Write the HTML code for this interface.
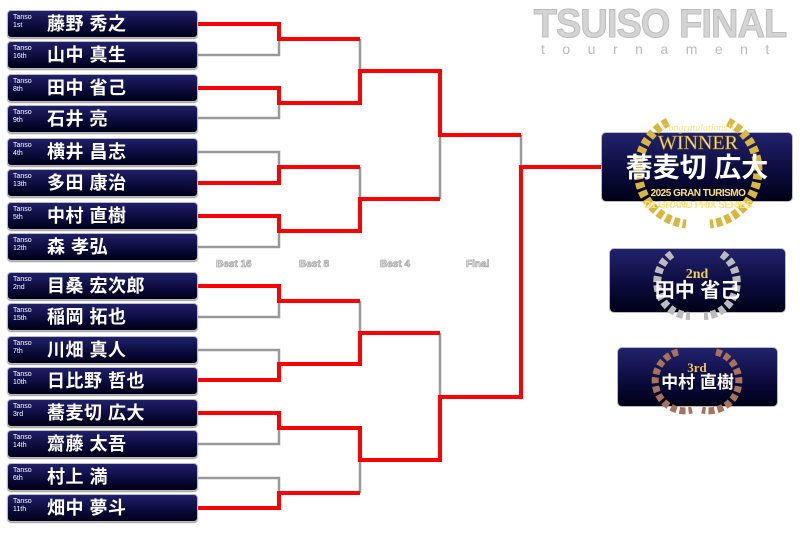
<!DOCTYPE html>
<html><head><meta charset="utf-8">
<style>
html,body{margin:0;padding:0;background:#fff;}
body{width:800px;height:533px;position:relative;overflow:hidden;font-family:"Liberation Sans","Noto Sans CJK JP",sans-serif;}
.b{position:absolute;left:7px;width:189px;height:26px;border:1px solid #bbb;border-radius:4px;background:linear-gradient(#20206a,#0a0a3a 60%,#000018);box-shadow:0 1px 1px #999;}
.t{position:absolute;left:5px;top:3px;font-size:7px;line-height:8px;color:#fff;}
.n{position:absolute;left:39px;top:1px;font-size:18px;line-height:24px;font-weight:bold;color:#fff;letter-spacing:0.5px;white-space:nowrap;}
.lab{position:absolute;top:259px;font-size:10px;font-weight:bold;color:#e6e6e6;-webkit-text-stroke:0.6px #999;}
.pb{position:absolute;border:1px solid #bbb;border-radius:5px;background:linear-gradient(#22226e,#0a0a3a 60%,#000018);}
.pn{position:absolute;left:0;right:0;text-align:center;color:#fff;font-weight:bold;white-space:nowrap;}
</style></head><body>
<svg width="800" height="533" style="position:absolute;left:0;top:0" >
<g fill="none" stroke-linejoin="miter">
<g stroke="#999" stroke-width="2.5">
<polyline points="197,55 279,55 279,39"/>
<polyline points="197,118 279,118 279,103"/>
<polyline points="197,152 279,152 279,167"/>
<polyline points="197,247 279,247 279,231"/>
<polyline points="197,317 279,317 279,301"/>
<polyline points="197,350 279,350 279,364"/>
<polyline points="197,444 279,444 279,428"/>
<polyline points="197,478 279,478 279,493"/>
<polyline points="360,39 360,71"/>
<polyline points="360,167 360,199"/>
<polyline points="360,301 360,333"/>
<polyline points="360,460 360,493"/>
<polyline points="440,135 440,199"/>
<polyline points="440,333 440,397"/>
<polyline points="521,135 521,167"/>
</g>
<g stroke="#f00" stroke-width="4">
<polyline points="197,24 279,24 279,39 360,39"/>
<polyline points="197,88 279,88 279,103 360,103 360,71 440,71 440,135 521,135"/>
<polyline points="197,183 279,183 279,167 360,167"/>
<polyline points="197,216 279,216 279,231 360,231 360,199 440,199"/>
<polyline points="197,286 279,286 279,301 360,301"/>
<polyline points="197,380 279,380 279,364 360,364 360,333 440,333"/>
<polyline points="197,413 279,413 279,428 360,428 360,460 440,460 440,397 521,397 521,167 602,167"/>
<polyline points="197,508 279,508 279,493 360,493"/>
</g>
</g>
</svg>

<div class="b" style="top:10px"><div class="t">Tanso<br>1st</div><div class="n">藤野 秀之</div></div>
<div class="b" style="top:41px"><div class="t">Tanso<br>16th</div><div class="n">山中 真生</div></div>
<div class="b" style="top:74px"><div class="t">Tanso<br>8th</div><div class="n">田中 省己</div></div>
<div class="b" style="top:105px"><div class="t">Tanso<br>9th</div><div class="n">石井 亮</div></div>
<div class="b" style="top:138px"><div class="t">Tanso<br>4th</div><div class="n">横井 昌志</div></div>
<div class="b" style="top:169px"><div class="t">Tanso<br>13th</div><div class="n">多田 康治</div></div>
<div class="b" style="top:202px"><div class="t">Tanso<br>5th</div><div class="n">中村 直樹</div></div>
<div class="b" style="top:233px"><div class="t">Tanso<br>12th</div><div class="n">森 孝弘</div></div>
<div class="b" style="top:272px"><div class="t">Tanso<br>2nd</div><div class="n">目桑 宏次郎</div></div>
<div class="b" style="top:303px"><div class="t">Tanso<br>15th</div><div class="n">稲岡 拓也</div></div>
<div class="b" style="top:336px"><div class="t">Tanso<br>7th</div><div class="n">川畑 真人</div></div>
<div class="b" style="top:367px"><div class="t">Tanso<br>10th</div><div class="n">日比野 哲也</div></div>
<div class="b" style="top:399px"><div class="t">Tanso<br>3rd</div><div class="n">蕎麦切 広大</div></div>
<div class="b" style="top:430px"><div class="t">Tanso<br>14th</div><div class="n">齋藤 太吾</div></div>
<div class="b" style="top:463px"><div class="t">Tanso<br>6th</div><div class="n">村上 満</div></div>
<div class="b" style="top:494px"><div class="t">Tanso<br>11th</div><div class="n">畑中 夢斗</div></div>

<div class="lab" style="left:216px">Best 16</div>
<div class="lab" style="left:299px">Best 8</div>
<div class="lab" style="left:380px">Best 4</div>
<div class="lab" style="left:466px">Final</div>

<div style="position:absolute;left:520px;top:4px;width:280px;text-align:center;font-size:40px;line-height:40px;font-weight:bold;color:#d4d4d4;-webkit-text-stroke:1px #bbb;transform:scaleX(0.95);transform-origin:center;letter-spacing:-1px;">TSUISO FINAL</div>
<div style="position:absolute;left:541px;top:42px;width:260px;font-size:14px;line-height:14px;color:#bbb;letter-spacing:17.5px;">tournament</div>

<div class="pb" style="left:601px;top:132px;width:190px;height:68px;"></div>
<div class="pb" style="left:609px;top:248px;width:175px;height:63px;"></div>
<div class="pb" style="left:617px;top:347px;width:159px;height:58px;"></div>

<svg width="800" height="533" style="position:absolute;left:0;top:0">
<g fill="none" stroke-dasharray="6 3">
<path d="M668,122 A54,54 0 0 0 686,224" stroke="#d9b640" stroke-width="9"/>
<path d="M728,122 A54,54 0 0 1 710,224" stroke="#d9b640" stroke-width="9"/>
<path d="M672,254 A34,34 0 0 0 690,316" stroke="#bbb" stroke-width="8"/>
<path d="M722,254 A34,34 0 0 1 704,316" stroke="#bbb" stroke-width="8"/>
<path d="M678,352 A28,28 0 0 0 692,410" stroke="#a8735a" stroke-width="7"/>
<path d="M716,352 A28,28 0 0 1 702,410" stroke="#a8735a" stroke-width="7"/>
</g>
<text x="698" y="131" text-anchor="middle" font-family="Liberation Serif,serif" font-size="10" font-style="italic" fill="#ffe27a">Congratulations!!</text>
<text x="698" y="149" text-anchor="middle" font-family="Liberation Serif,serif" font-size="20" fill="#ffe27a" stroke="#a0801a" stroke-width="0.5">WINNER</text>
<text x="698" y="196" text-anchor="middle" font-family="Liberation Sans,sans-serif" font-size="10" font-weight="bold" fill="#ffe27a" letter-spacing="-0.5">2025 GRAN TURISMO</text>
<text x="698" y="208" text-anchor="middle" font-family="Liberation Sans,sans-serif" font-size="10" font-weight="bold" fill="#ffe27a" letter-spacing="-0.5">D1 GRAND PRIX SERIES</text>
<text x="697" y="278" text-anchor="middle" font-family="Liberation Serif,serif" font-size="14" font-weight="bold" fill="#f0d060">2nd</text>
<text x="697" y="372" text-anchor="middle" font-family="Liberation Serif,serif" font-size="13" font-weight="bold" fill="#f0c060">3rd</text>
</svg>
<div class="pn" style="left:601px;width:192px;top:153px;font-size:27px;line-height:30px;">蕎麦切 広大</div>
<div class="pn" style="left:609px;width:177px;top:279px;font-size:20px;line-height:24px;">田中 省己</div>
<div class="pn" style="left:617px;width:161px;top:372px;font-size:17px;line-height:22px;">中村 直樹</div>
</body></html>
